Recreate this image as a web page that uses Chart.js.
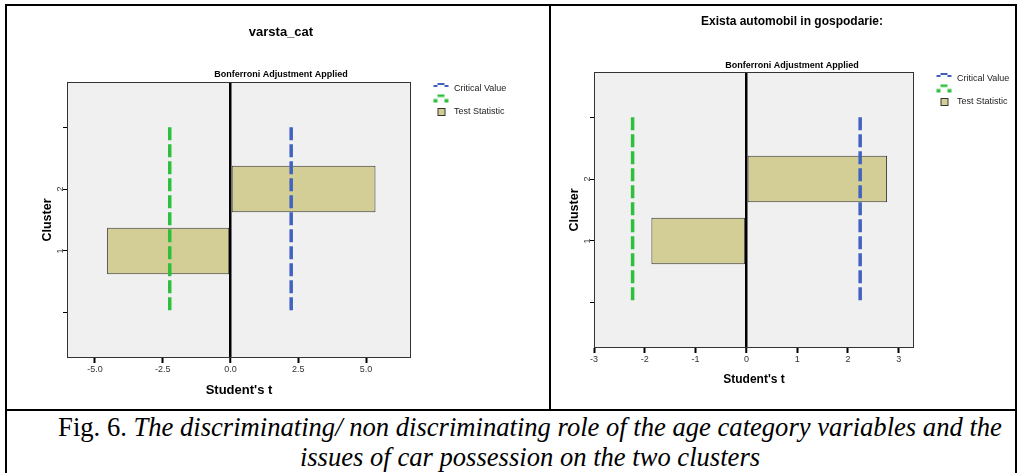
<!DOCTYPE html>
<html>
<head>
<meta charset="utf-8">
<script src="https://cdn.jsdelivr.net/npm/chart.js@4.4.1/dist/chart.umd.min.js"></script>
<style>
  html, body { margin: 0; padding: 0; background: #fff; }
  body { width: 1019px; height: 473px; position: relative; overflow: hidden; font-family: "Liberation Sans", Arial, sans-serif; }
  .frame { position: absolute; left: 5px; top: 4px; width: 1008px; height: 480px; border: 2px solid #000; border-bottom: none; }
  .vline { position: absolute; left: 549px; top: 4px; width: 2px; height: 406px; background: #000; }
  .hline { position: absolute; left: 5px; top: 409px; width: 1012px; height: 2px; background: #000; }
  .box { position: absolute; top: 6px; height: 403px; }
  #boxAge { left: 7px; width: 504px; }
  #boxCar { left: 552px; width: 462px; }
  .caption { position: absolute; left: 26px; top: 412px; width: 1008px; text-align: center;
             font-family: "Liberation Serif", "Times New Roman", serif; font-size: 26.6px; line-height: 30px; color: #000; }
</style>
</head>
<body>
<div class="frame"></div>
<div class="vline"></div>
<div class="hline"></div>
<div class="box" id="boxAge"><canvas id="chartAge"></canvas></div>
<div class="box" id="boxCar"><canvas id="chartCar"></canvas></div>
<div class="caption">Fig. 6. <i>The discriminating/ non discriminating role of the age category variables and the<br>issues of car possession on the two clusters</i></div>

<script>
// Values
const clusters = [1, 2];
const clusterTicks = [0, 1, 2, 3];
const clusterLabels = ['', '1', '2', ''];
const critSpan = [3, 0];

const ageStat = [-4.55, 5.35];
const ageCrit = 2.24;
const ageTicks = [-5, -2.5, 0, 2.5, 5];

const carStat = [-1.87, 2.77];
const carCrit = 2.24;
const carTicks = [-3, -2, -1, 0, 1, 2, 3];

const legendLabels = ['Critical Value', '', 'Test Statistic'];

const BLUE = '#4162c0';
const GREEN = '#2ebf3c';
const TAN = '#d3ce96';

Chart.defaults.font.family = '"Liberation Sans", Arial, sans-serif';

// small legend icons (SPSS style)
function makeIcon(draw) {
    const c = document.createElement('canvas');
    c.width = 36;
    c.height = 16;
    draw(c.getContext('2d'));
    return c;
}
const blueIcon = makeIcon(g => {
    g.fillStyle = BLUE;
    g.fillRect(20, 4, 4, 2);
    g.fillRect(24, 2, 7, 2);
    g.fillRect(31, 4, 4, 2);
});
const greenIcon = makeIcon(g => {
    g.fillStyle = GREEN;
    g.fillRect(24, 2, 7, 2.5);
    g.fillRect(20, 6.5, 4, 3.5);
    g.fillRect(31, 6.5, 4, 3.5);
});
const boxIcon = makeIcon(g => {
    g.fillStyle = TAN;
    g.strokeStyle = '#333';
    g.lineWidth = 1;
    g.fillRect(24.5, 4.5, 7, 7);
    g.strokeRect(24.5, 4.5, 7, 7);
});
const legendIcons = [blueIcon, greenIcon, boxIcon];

// grey plot background + frame
const plotFrame = {
    id: 'plotFrame',
    beforeDraw(chart) {
        const { ctx, chartArea: a } = chart;
        ctx.save();
        ctx.fillStyle = '#f0f0f0';
        ctx.fillRect(a.left, a.top, a.width, a.height);
        ctx.restore();
    },
    afterDatasetsDraw(chart) {
        const { ctx, chartArea: a } = chart;
        ctx.save();
        ctx.strokeStyle = '#333';
        ctx.lineWidth = 1;
        ctx.strokeRect(a.left + 0.5, a.top + 0.5, a.width - 1, a.height - 1);
        ctx.restore();
    }
};

function makeChart(id, c) {
    const ctx = document.getElementById(id).getContext('2d');
    return new Chart(ctx, {
        type: 'bar',
        data: {
            datasets: [
                {
                    type: 'line',
                    label: 'Critical Value',
                    data: critSpan.map(y => ({ x: c.crit, y: y })),
                    borderColor: BLUE,
                    borderWidth: 3.5,
                    borderDash: [13, 4],
                    pointRadius: 0,
                    fill: false
                },
                {
                    type: 'line',
                    label: 'Critical Value (-)',
                    data: critSpan.map(y => ({ x: -c.crit, y: y })),
                    borderColor: GREEN,
                    borderWidth: 3.5,
                    borderDash: [13, 4],
                    pointRadius: 0,
                    fill: false
                },
                {
                    type: 'bar',
                    label: 'Test Statistic',
                    data: clusters.map((cl, i) => ({ x: c.stat[i], y: cl })),
                    backgroundColor: TAN,
                    borderColor: '#333',
                    borderWidth: 1,
                    borderSkipped: false,
                    categoryPercentage: 1,
                    barPercentage: 0.75
                }
            ]
        },
        options: {
            indexAxis: 'y',
            responsive: true,
            maintainAspectRatio: false,
            animation: false,
            layout: { padding: { left: c.padLeft, right: 0, top: 0, bottom: 0 } },
            plugins: {
                title: {
                    display: true,
                    text: c.title,
                    color: '#000',
                    font: { size: c.titleSize, weight: 'bold' },
                    padding: c.titlePad
                },
                subtitle: {
                    display: true,
                    text: 'Bonferroni Adjustment Applied',
                    color: '#000',
                    font: { size: 9, weight: 'bold' },
                    padding: c.subPad
                },
                legend: {
                    position: 'right',
                    align: 'start',
                    fullSize: false,
                    maxWidth: 100,
                    labels: {
                        usePointStyle: true,
                        pointStyleWidth: 36,
                        padding: 2.5,
                        color: '#222',
                        font: { size: 9 },
                        generateLabels: () => legendLabels.map((t, i) => ({
                            text: t,
                            pointStyle: legendIcons[i],
                            fontColor: '#222',
                            hidden: false,
                            lineWidth: 0,
                            datasetIndex: i
                        }))
                    }
                },
                tooltip: { enabled: false }
            },
            scales: {
                x: {
                    type: 'linear',
                    min: c.xMin,
                    max: c.xMax,
                    offset: false,
                    afterBuildTicks: s => { s.ticks = c.xTicks.map(v => ({ value: v })); },
                    afterFit: s => { s.height = c.xHeight; },
                    border: { display: false },
                    grid: {
                        offset: false,
                        color: g => (g.tick && g.tick.value === 0) ? '#000' : 'rgba(0,0,0,0)',
                        lineWidth: g => (g.tick && g.tick.value === 0) ? 2.5 : 1,
                        tickColor: '#000',
                        tickWidth: 2,
                        tickLength: 5
                    },
                    ticks: {
                        padding: 1.6,
                        color: '#333',
                        font: { size: 9 },
                        autoSkip: false,
                        maxRotation: 0,
                        callback: c.fmt
                    },
                    title: {
                        display: true,
                        text: "Student's t",
                        color: '#000',
                        font: { size: c.xTitleSize, weight: 'bold' },
                        padding: { top: 0, bottom: c.xTitlePad }
                    }
                },
                y: {
                    type: 'linear',
                    min: -0.73,
                    max: 3.73,
                    offset: false,
                    afterBuildTicks: s => { s.ticks = clusterTicks.map(v => ({ value: v })); },
                    afterFit: s => { s.width = c.yWidth; },
                    border: { display: false },
                    grid: {
                        offset: false,
                        drawOnChartArea: false,
                        tickLength: 4,
                        tickColor: '#000',
                        tickWidth: 1
                    },
                    ticks: {
                        padding: 0,
                        color: '#333',
                        font: { size: 9 },
                        autoSkip: false,
                        minRotation: 90,
                        maxRotation: 90,
                        crossAlign: 'center',
                        callback: v => clusterLabels[clusterTicks.indexOf(v)]
                    },
                    title: {
                        display: true,
                        text: 'Cluster',
                        color: '#000',
                        font: { size: 12.5, weight: 'bold' },
                        padding: { top: c.yTitlePad, bottom: 0 }
                    }
                }
            }
        },
        plugins: [plotFrame]
    });
}

// varsta_cat
makeChart('chartAge', {
    stat: ageStat, crit: ageCrit, xTicks: ageTicks,
    xMin: -6.03, xMax: 6.66,
    fmt: v => v.toFixed(1),
    title: 'varsta_cat', titleSize: 13,
    titlePad: { top: 18.2, bottom: 20 }, subPad: { top: 9.8, bottom: 1.6 },
    padLeft: 44, yWidth: 16, yTitlePad: -10.7,
    xHeight: 51, xTitleSize: 13, xTitlePad: 11.2
});

// Exista automobil in gospodarie
makeChart('chartCar', {
    stat: carStat, crit: carCrit, xTicks: carTicks,
    xMin: -3, xMax: 3.30,
    fmt: v => String(v),
    title: 'Exista automobil in gospodarie:', titleSize: 12,
    titlePad: { top: 8.8, bottom: 20 }, subPad: { top: 10.7, bottom: 1.3 },
    padLeft: 18, yWidth: 24, yTitlePad: -2.5,
    xHeight: 61, xTitleSize: 12, xTitlePad: 21.8
});
</script>
</body>
</html>
